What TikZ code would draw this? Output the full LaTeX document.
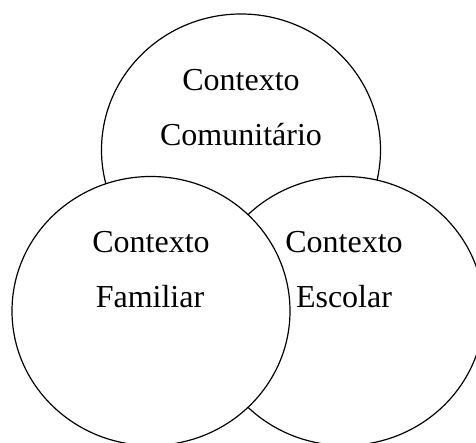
\documentclass[tikz,border=0pt]{standalone}
\usepackage{fontspec}
\setmainfont{Liberation Serif}
\begin{document}
\begin{tikzpicture}[x=1pt,y=1pt,
  ctx/.style={draw=black,fill=white,line width=1.2pt},
  lbl/.style={anchor=base,inner sep=0pt,font=\fontsize{32}{38}\selectfont}]
\useasboundingbox (0,0) rectangle (476,443);
\clip (0,0) rectangle (476,443);
% top circle (back)
\path[ctx] (241,293) ellipse [x radius=139.5, y radius=136];
% right circle
\path[ctx] (345,132) ellipse [x radius=139, y radius=134.5];
% left circle (front)
\path[ctx] (151,132) ellipse [x radius=139, y radius=134.5];
\node[lbl] (t1) at (241,352.3) {Contexto};
\node[lbl] (t2) at (241,297.3) {Comunitário};
\node[lbl] (l1) at (151,190) {Contexto};
\node[lbl] (l2) at (150,135) {Familiar};
\node[lbl] (r1) at (344,190) {Contexto};
\node[lbl] (r2) at (344,135) {Escolar};
\end{tikzpicture}
\end{document}
